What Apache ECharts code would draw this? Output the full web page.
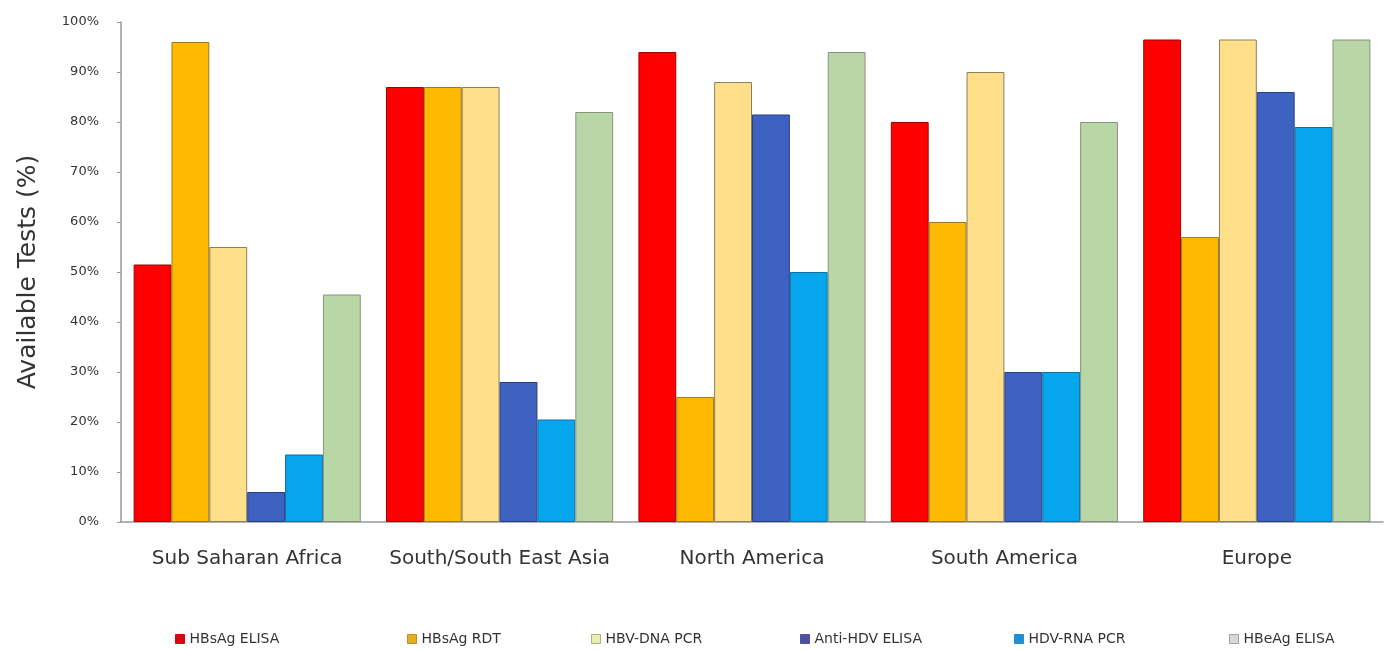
<!DOCTYPE html>
<html>
<head>
<meta charset="utf-8">
<script src="https://cdn.jsdelivr.net/npm/echarts@6/dist/echarts.min.js"></script>
<style>
html,body{margin:0;padding:0;background:#fff;}
#chart{width:1391px;height:650px;}
</style>
</head>
<body>
<div id="chart"></div>
<script>
const categories = ['Sub Saharan Africa', 'South/South East Asia', 'North America', 'South America', 'Europe'];
const seriesNames = ['HBsAg ELISA', 'HBsAg RDT', 'HBV-DNA PCR', 'Anti-HDV ELISA', 'HDV-RNA PCR', 'HBeAg ELISA'];
const hbsagElisa = [51.5, 87, 94, 80, 96.5];
const hbsagRdt = [96, 87, 25, 60, 57];
const hbvDnaPcr = [55, 87, 88, 90, 96.5];
const antiHdvElisa = [6, 28, 81.5, 30, 86];
const hdvRnaPcr = [13.5, 20.5, 50, 30, 79];
const hbeagElisa = [45.5, 82, 94, 80, 96.5];
const yTicks = ['0%', '10%', '20%', '30%', '40%', '50%', '60%', '70%', '80%', '90%', '100%'];

const seriesData = [hbsagElisa, hbsagRdt, hbvDnaPcr, antiHdvElisa, hdvRnaPcr, hbeagElisa];
const colors = ['#FF0000', '#FFBA00', '#FFDF8A', '#3E62C2', '#05A6EE', '#B9D7A6'];
const borders = ['#A00000', '#9A7A20', '#8A8060', '#2A3F80', '#1070A0', '#8A9080'];
const legendIconColors = ['#E00010', '#E0B020', '#E8EEB0', '#5050A0', '#2090D0', '#D8D8D8'];
const legendIconBorders = ['#E00010', '#C09020', '#B0B080', '#5050A0', '#2090D0', '#A0A0A0'];
const legendLeft = [170, 402, 586, 795, 1009, 1224];

const FONT = '"DejaVu Sans", sans-serif';

const chart = echarts.init(document.getElementById('chart'));
chart.setOption({
  backgroundColor: '#ffffff',
  animation: false,
  textStyle: { fontFamily: FONT },
  grid: { left: 121, right: 8, top: 22, bottom: 128 },
  legend: seriesNames.map((n, i) => ({
    data: [{ name: n, itemStyle: { color: legendIconColors[i], borderColor: legendIconBorders[i], borderWidth: 1 } }],
    left: legendLeft[i],
    top: 627,
    itemWidth: 9,
    itemHeight: 9,
    itemGap: 4,
    icon: 'rect',
    textStyle: { fontFamily: FONT, fontSize: 14, color: '#333' }
  })),
  xAxis: {
    type: 'category',
    data: categories,
    axisLine: { lineStyle: { color: '#999', width: 1.5 } },
    axisTick: { show: false },
    axisLabel: { fontSize: 20, color: '#333', margin: 27, fontFamily: FONT, interval: 0, hideOverlap: false }
  },
  yAxis: {
    type: 'value',
    min: 0,
    max: 100,
    interval: 10,
    name: 'Available Tests (%)',
    nameLocation: 'middle',
    nameGap: 80,
    nameTextStyle: { fontSize: 25, color: '#333', fontFamily: FONT },
    axisLine: { show: true, lineStyle: { color: '#999', width: 1.5 } },
    axisTick: { show: true, length: 4, lineStyle: { color: '#999' } },
    splitLine: { show: false },
    axisLabel: {
      fontSize: 13, color: '#333', margin: 22, fontFamily: FONT,
      formatter: (v) => yTicks[Math.round(v / 10)]
    }
  },
  series: seriesNames.map((n, i) => ({
    name: n,
    type: 'bar',
    data: seriesData[i],
    barGap: '0%',
    barCategoryGap: '10%',
    itemStyle: { color: colors[i], borderColor: borders[i], borderWidth: 1 }
  }))
});
</script>
</body>
</html>
